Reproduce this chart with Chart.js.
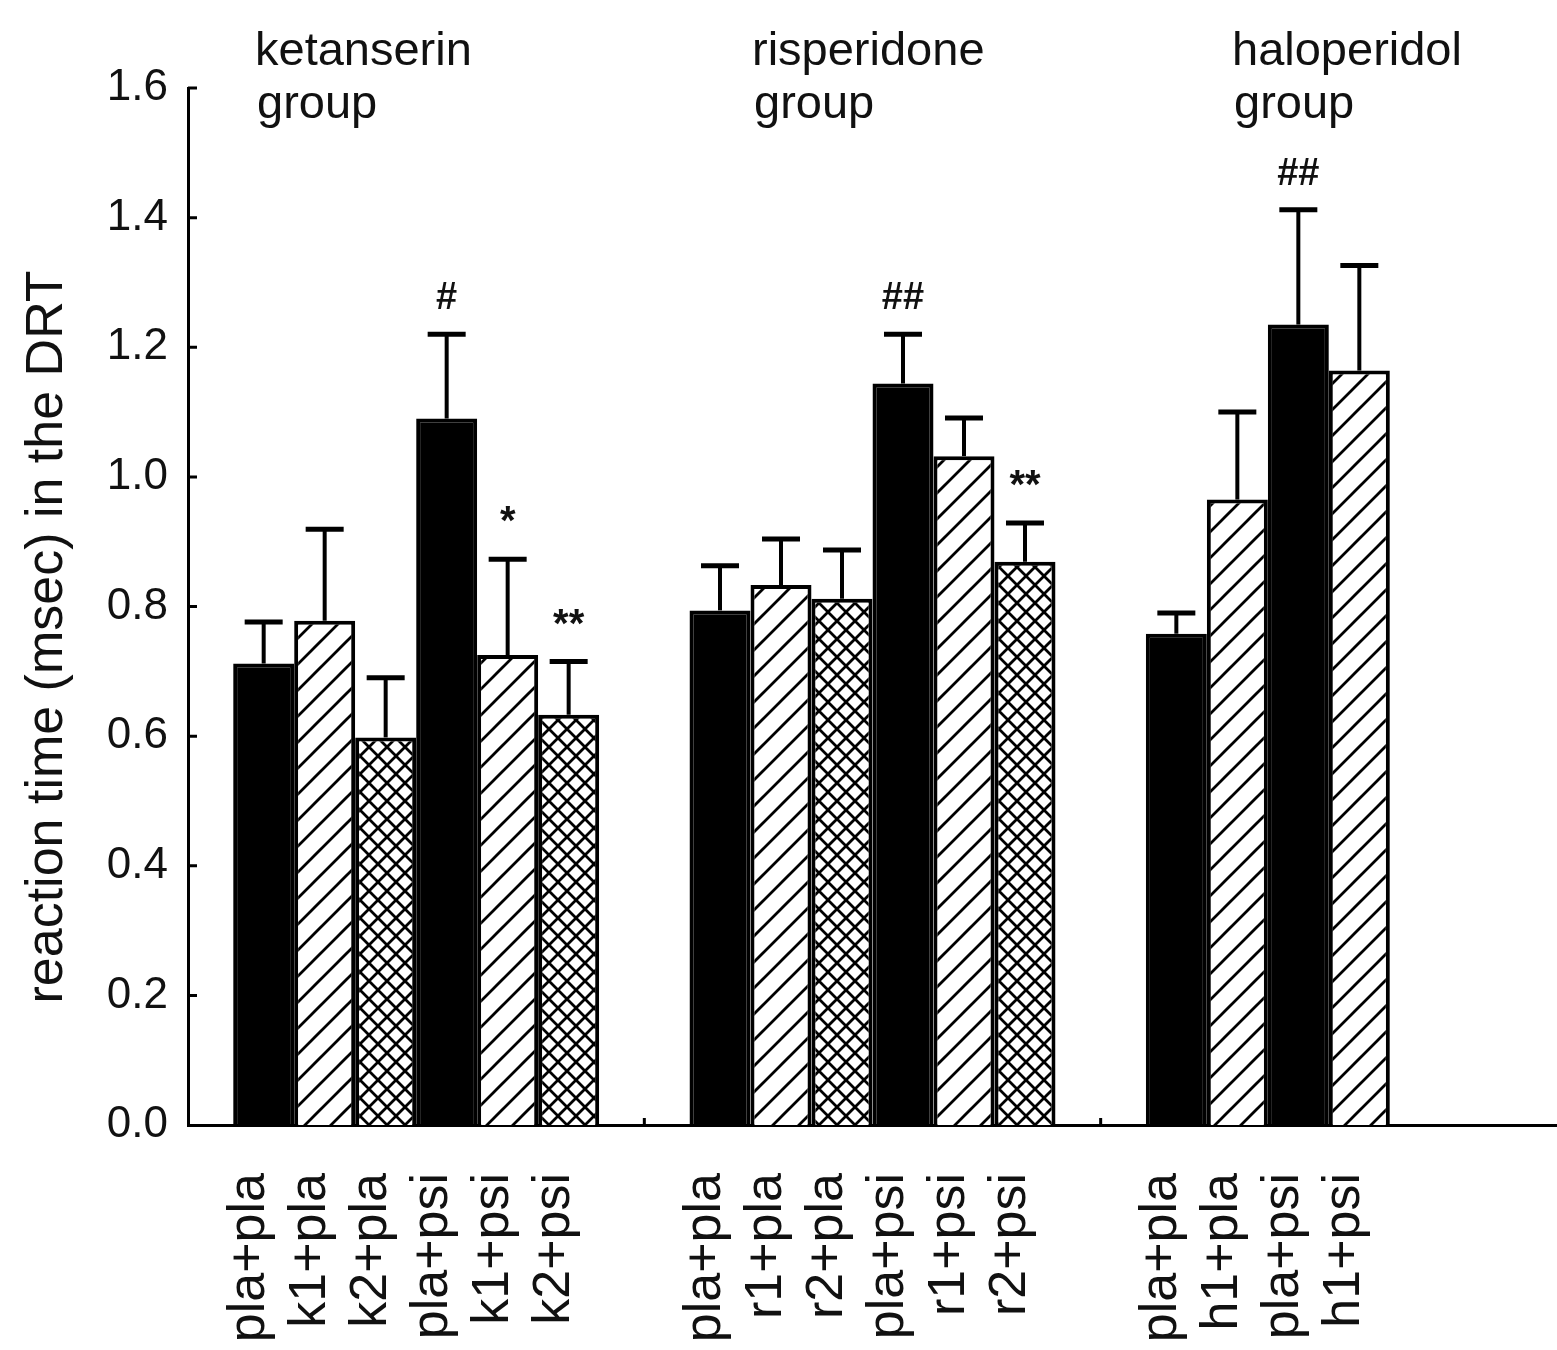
<!DOCTYPE html>
<html>
<head>
<meta charset="utf-8">
<title>Reaction time in the DRT</title>
<script src="https://cdn.jsdelivr.net/npm/chart.js@4.4.1/dist/chart.umd.min.js"></script>
<style>
  html, body { margin: 0; padding: 0; background: #fff; }
  #wrap { width: 1557px; height: 1350px; }
</style>
</head>
<body>
<div id="wrap"><canvas id="chart" width="1557" height="1350"></canvas></div>
<script>
// ─── Data ───────────────────────────────────────────────────────────
const groupNames = ['ketanserin group', 'risperidone group', 'haloperidol group'];

const ketanserinLabels = ['pla+pla', 'k1+pla', 'k2+pla', 'pla+psi', 'k1+psi', 'k2+psi'];
const ketanserinMean   = [0.712, 0.778, 0.598, 1.090, 0.725, 0.633];
const ketanserinSem    = [0.064, 0.141, 0.092, 0.130, 0.148, 0.082];
const ketanserinSig    = ['', '', '', '#', '*', '**'];

const risperidoneLabels = ['pla+pla', 'r1+pla', 'r2+pla', 'pla+psi', 'r1+psi', 'r2+psi'];
const risperidoneMean   = [0.794, 0.833, 0.812, 1.144, 1.032, 0.869];
const risperidoneSem    = [0.069, 0.071, 0.075, 0.076, 0.059, 0.060];
const risperidoneSig    = ['', '', '', '##', '', '**'];

const haloperidolLabels = ['pla+pla', 'h1+pla', 'pla+psi', 'h1+psi'];
const haloperidolMean   = [0.758, 0.965, 1.235, 1.164];
const haloperidolSem    = [0.032, 0.135, 0.177, 0.162];
const haloperidolSig    = ['', '', '##', ''];

const yTicks = [0, 0.2, 0.4, 0.6, 0.8, 1.0, 1.2, 1.4, 1.6];

// ─── Styles ─────────────────────────────────────────────────────────
const FONT = '"Liberation Sans", Arial, Helvetica, sans-serif';
const INK = '#111';
const fillKinds = [
    ['solid', 'hatch', 'cross', 'solid', 'hatch', 'cross'],
    ['solid', 'hatch', 'cross', 'solid', 'hatch', 'cross'],
    ['solid', 'hatch', 'solid', 'hatch']
];
const titleX = [255, 752, 1232];   // left edge of group headings

function makePattern(kind) {
    const p = kind === 'hatch' ? 26 : 18;
    const c = document.createElement('canvas');
    c.width = c.height = p;
    const g = c.getContext('2d');
    g.fillStyle = '#fff';
    g.fillRect(0, 0, p, p);
    g.strokeStyle = '#000';
    g.lineWidth = kind === 'hatch' ? 2.8 : 2.8;
    g.beginPath();
    g.moveTo(-1, p + 1); g.lineTo(p + 1, -1);
    g.moveTo(-p / 2, p / 2); g.lineTo(p / 2, -p / 2);
    g.moveTo(p / 2, p * 1.5); g.lineTo(p * 1.5, p / 2);
    if (kind === 'cross') {
        g.moveTo(-1, -1); g.lineTo(p + 1, p + 1);
        g.moveTo(-p / 2, p / 2); g.lineTo(p / 2, p * 1.5);
        g.moveTo(p / 2, -p / 2); g.lineTo(p * 1.5, p / 2);
    }
    g.stroke();
    return g.createPattern(c, 'repeat');
}

const fills = { solid: '#000', hatch: makePattern('hatch'), cross: makePattern('cross') };

// ─── Datasets (one per bar slot, grouped by drug) ───────────────────
const groups = [
    { labels: ketanserinLabels,  mean: ketanserinMean,  sem: ketanserinSem,  sig: ketanserinSig },
    { labels: risperidoneLabels, mean: risperidoneMean, sem: risperidoneSem, sig: risperidoneSig },
    { labels: haloperidolLabels, mean: haloperidolMean, sem: haloperidolSem, sig: haloperidolSig }
];
const slots = Math.max(...groups.map(g => g.mean.length));

const datasets = Array.from({ length: slots }, (_, s) => ({
    data: groups.map(g => g.mean[s] ?? null),
    sem: groups.map(g => g.sem[s] ?? null),
    sig: groups.map(g => g.sig[s] ?? ''),
    names: groups.map(g => g.labels[s] ?? ''),
    backgroundColor: groups.map((g, gi) => fills[fillKinds[gi][s] || 'solid']),
    borderColor: '#000',
    borderWidth: 4,
    barPercentage: 1,
    categoryPercentage: 0.802
}));

// ─── Overlay: error bars, marks, labels, titles ─────────────────────
const overlay = {
    id: 'overlay',
    afterDatasetsDraw(chart) {
        const ctx = chart.ctx;
        const y = chart.scales.y;
        ctx.save();
        ctx.strokeStyle = '#000';
        ctx.fillStyle = INK;
        chart.data.datasets.forEach((ds, s) => {
            chart.getDatasetMeta(s).data.forEach((bar, g) => {
                const v = ds.data[g];
                if (v == null) return;
                const top = y.getPixelForValue(v + ds.sem[g]);
                // stem
                ctx.lineWidth = 4;
                ctx.beginPath();
                ctx.moveTo(bar.x, bar.y);
                ctx.lineTo(bar.x, top);
                ctx.stroke();
                // cap
                ctx.lineWidth = 5;
                ctx.beginPath();
                ctx.moveTo(bar.x - 19, top);
                ctx.lineTo(bar.x + 19, top);
                ctx.stroke();
                // significance mark
                const mark = ds.sig[g];
                if (mark) {
                    ctx.font = (mark.includes('#') ? 'bold 38px ' : 'bold 40px ') + FONT;
                    ctx.textAlign = 'center';
                    ctx.textBaseline = 'alphabetic';
                    ctx.fillText(mark, bar.x, top - 25);
                }
                // rotated category label
                ctx.save();
                ctx.translate(bar.x, 1173);
                ctx.rotate(-Math.PI / 2);
                ctx.font = '52px ' + FONT;
                ctx.textAlign = 'right';
                ctx.textBaseline = 'alphabetic';
                ctx.fillText(ds.names[g], 0, 0);
                ctx.restore();
            });
        });

        // inward tick marks
        const area = chart.chartArea;
        ctx.lineWidth = 3;
        ctx.beginPath();
        yTicks.forEach(t => {
            if (t === 0) return;
            const py = y.getPixelForValue(t);
            ctx.moveTo(area.left, py);
            ctx.lineTo(area.left + 9, py);
        });
        const x = chart.scales.x;
        for (let i = 1; i < groupNames.length; i++) {
            const px = (x.getPixelForValue(i - 1) + x.getPixelForValue(i)) / 2;
            ctx.moveTo(px, area.bottom);
            ctx.lineTo(px, area.bottom - 7);
        }
        ctx.stroke();

        // group headings
        ctx.font = '47px ' + FONT;
        ctx.textAlign = 'left';
        ctx.textBaseline = 'alphabetic';
        groupNames.forEach((name, i) => {
            const [w1, w2] = name.split(' ');
            ctx.fillText(w1, titleX[i], 65);
            ctx.fillText(w2, titleX[i] + 2, 118);
        });

        // y-axis title
        ctx.save();
        ctx.translate(62, 637);
        ctx.rotate(-Math.PI / 2);
        ctx.font = '52px ' + FONT;
        ctx.textAlign = 'center';
        ctx.fillText('reaction time (msec) in the DRT', 0, 0);
        ctx.restore();

        ctx.restore();
    }
};

new Chart(document.getElementById('chart'), {
    type: 'bar',
    data: { labels: groupNames, datasets },
    options: {
        responsive: false,
        animation: false,
        layout: { padding: { top: 88, left: 0, right: 0, bottom: 0 } },
        plugins: { legend: { display: false }, tooltip: { enabled: false } },
        scales: {
            x: {
                grid: { display: false },
                border: { display: true, color: '#000', width: 3 },
                ticks: { display: false },
                afterFit: s => { s.height = 225; }
            },
            y: {
                min: 0,
                max: 1.6,
                afterBuildTicks: s => { s.ticks = yTicks.map(v => ({ value: v })); },
                grid: { display: false, drawTicks: false },
                border: { display: true, color: '#000', width: 3 },
                ticks: {
                    padding: 20,
                    color: INK,
                    font: { family: FONT, size: 44 },
                    callback: v => Number(v).toFixed(1)
                },
                afterFit: s => { s.width = 188; }
            }
        }
    },
    plugins: [overlay]
});
</script>
</body>
</html>
